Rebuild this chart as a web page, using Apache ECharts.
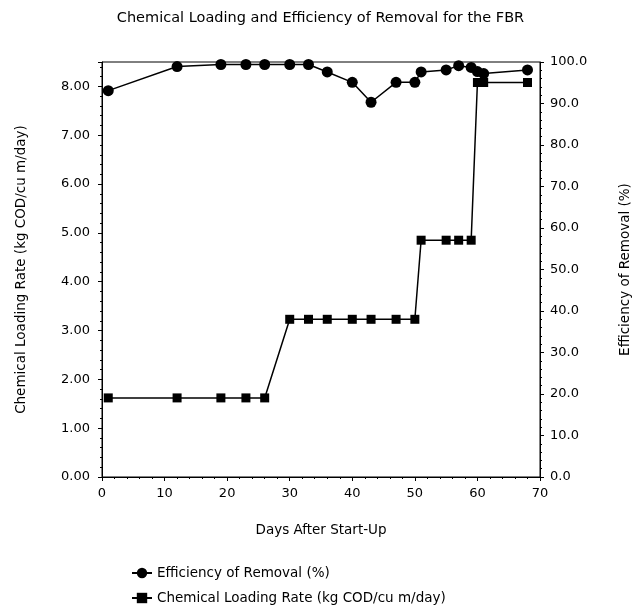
<!DOCTYPE html>
<html><head><meta charset="utf-8">
<script src="https://cdn.jsdelivr.net/npm/echarts@6/dist/echarts.min.js"></script>
<style>html,body{margin:0;padding:0;background:#fff}#c{width:641px;height:613px}</style>
</head><body><div id="c"></div>
<script>
const titleText = 'Chemical Loading and Efficiency of Removal for the FBR';
const xName = 'Days After Start-Up';
const leftName = 'Chemical Loading Rate (kg COD/cu m/day)';
const rightName = 'Efficiency of Removal (%)';
const days = [1, 12, 19, 23, 26, 30, 33, 36, 40, 43, 47, 50, 51, 55, 57, 59, 60, 61, 68];
const efficiency = [93.1, 98.9, 99.4, 99.4, 99.4, 99.4, 99.4, 97.6, 95.1, 90.3, 95.1, 95.1, 97.6, 98.1, 99.1, 98.7, 97.7, 97.2, 98.1];
const loadingRate = [1.62, 1.62, 1.62, 1.62, 1.62, 3.23, 3.23, 3.23, 3.23, 3.23, 3.23, 3.23, 4.85, 4.85, 4.85, 4.85, 8.08, 8.08, 8.08];

const FONT = 'DejaVu Sans';
const chart = echarts.init(document.getElementById('c'), null, {renderer: 'canvas'});
const axisCommon = {
  axisLine: {show: true, lineStyle: {color: '#000', width: 1}},
  axisTick: {show: true, inside: false, length: 4, lineStyle: {color: '#000'}},
  minorTick: {show: true, splitNumber: 5, length: 2, lineStyle: {color: '#000'}},
  splitLine: {show: false},
  nameTextStyle: {color: '#000', fontFamily: FONT, fontSize: 13.5}
};
chart.setOption({
  animation: false,
  backgroundColor: '#fff',
  title: {text: titleText, left: 'center', top: 6,
    textStyle: {color: '#000', fontFamily: FONT, fontSize: 14.5, fontWeight: 'normal'}},
  grid: {left: 102, right: 101, top: 62, bottom: 136, show: true, borderColor: '#000', borderWidth: 1},
  legend: {
    orient: 'vertical', left: 131, top: 566, padding: 0, itemGap: 11, itemWidth: 20, itemHeight: 13,
    textStyle: {color: '#000', fontFamily: FONT, fontSize: 13.5},
    data: [rightName, leftName]
  },
  xAxis: Object.assign({}, axisCommon, {
    type: 'value', min: 0, max: 70, interval: 10,
    name: xName, nameLocation: 'middle', nameGap: 46,
    axisLabel: {color: '#000', fontFamily: FONT, fontSize: 13, margin: 10}
  }),
  yAxis: [
    Object.assign({}, axisCommon, {
      type: 'value', position: 'left', min: 0, max: 8.5, interval: 1,
      name: leftName, nameLocation: 'middle', nameRotate: 90, nameGap: 74,
      axisLabel: {color: '#000', fontFamily: FONT, fontSize: 13, margin: 12, showMaxLabel: false,
        formatter: v => v.toFixed(2)}
    }),
    Object.assign({}, axisCommon, {
      type: 'value', position: 'right', min: 0, max: 100, interval: 10,
      name: rightName, nameLocation: 'middle', nameRotate: 90, nameGap: 78,
      axisLabel: {color: '#000', fontFamily: FONT, fontSize: 13, margin: 10,
        formatter: v => v.toFixed(1)}
    })
  ],
  series: [
    {
      name: rightName, type: 'line', yAxisIndex: 1,
      data: days.map((d, i) => [d, efficiency[i]]),
      symbol: 'circle', symbolSize: 11,
      lineStyle: {color: '#000', width: 1.5},
      itemStyle: {color: '#000'}
    },
    {
      name: leftName, type: 'line', yAxisIndex: 0,
      data: days.map((d, i) => [d, loadingRate[i]]),
      symbol: 'rect', symbolSize: 9,
      lineStyle: {color: '#000', width: 1.5},
      itemStyle: {color: '#000'}
    }
  ]
});
</script>
</body></html>
